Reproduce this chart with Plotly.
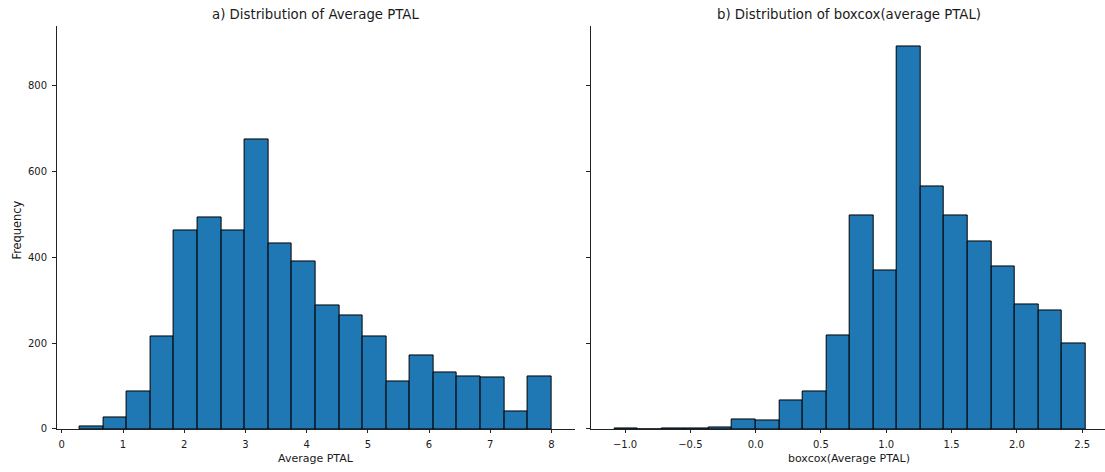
import plotly.graph_objects as go

# ---- data ----
left_edges = [0.29, 0.676, 1.061, 1.447, 1.832, 2.218, 2.603, 2.989, 3.374, 3.760,
              4.145, 4.531, 4.916, 5.302, 5.687, 6.073, 6.458, 6.844, 7.229, 7.615, 8.0]
left_counts = [7, 27, 87, 215, 462, 493, 462, 673, 432, 390,
               287, 264, 215, 110, 170, 131, 123, 120, 40, 123]

right_edges = [-1.082, -0.902, -0.721, -0.541, -0.360, -0.180, 0.0, 0.181, 0.361, 0.541,
               0.722, 0.902, 1.082, 1.263, 1.443, 1.623, 1.804, 1.984, 2.164, 2.345, 2.525]
right_counts = [2, 0, 1, 1, 4, 22, 20, 67, 87, 218,
                498, 370, 890, 565, 498, 436, 378, 290, 277, 198]

left_ticks = [0, 1, 2, 3, 4, 5, 6, 7, 8]
right_ticks = [-1.0, -0.5, 0.0, 0.5, 1.0, 1.5, 2.0, 2.5]
y_ticks = [0, 200, 400, 600, 800]

titles = ["a) Distribution of Average PTAL", "b) Distribution of boxcox(average PTAL)"]
xlabels = ["Average PTAL", "boxcox(Average PTAL)"]
ylabel = "Frequency"

W, H = 1105, 472
FONT = "DejaVu Sans"
BAR = "#1f77b4"
TXT = "#1a1a1a"


def bar_trace(edges, counts, xa, ya):
    centers = [(a + b) / 2 for a, b in zip(edges[:-1], edges[1:])]
    widths = [b - a for a, b in zip(edges[:-1], edges[1:])]
    return go.Bar(x=centers, y=counts, width=widths, xaxis=xa, yaxis=ya,
                  marker=dict(color=BAR, line=dict(color="black", width=1)),
                  showlegend=False, hoverinfo="x+y")


fig = go.Figure()
fig.add_trace(bar_trace(left_edges, left_counts, "x", "y"))
fig.add_trace(bar_trace(right_edges, right_counts, "x2", "y2"))

ydom = [(H - 434.5) / H, (H - 26.8) / H]
x1dom = [56.6 / W, 575.0 / W]
x2dom = [590.7 / W, 1.0]

axis_common = dict(showgrid=False, zeroline=False, showline=True, linecolor="#222",
                   linewidth=1, ticks="outside", ticklen=3.5, tickcolor="#222",
                   tickwidth=0.8, tickfont=dict(family=FONT, size=10, color=TXT))

fig.update_layout(
    width=W, height=H, margin=dict(l=0, r=0, t=0, b=0),
    paper_bgcolor="white", plot_bgcolor="white", bargap=0,
    font=dict(family=FONT, size=10, color=TXT),
    xaxis=dict(domain=x1dom, range=[-0.085, 8.385], tickvals=left_ticks,
               anchor="y", ticklabelstandoff=3, **axis_common),
    yaxis=dict(domain=ydom, range=[0, 937], tickvals=y_ticks, anchor="x",
               ticklabelstandoff=3, **axis_common),
    xaxis2=dict(domain=x2dom, range=[-1.263, 2.675], tickvals=right_ticks,
                tickformat=".1f", anchor="y2", ticklabelstandoff=3, **axis_common),
    yaxis2=dict(domain=ydom, range=[0, 937], tickvals=y_ticks, anchor="x2",
                showticklabels=False, matches="y", **axis_common),
)

centers_px = [315.9, 849.0]
ann = []
for cpx, t, xl in zip(centers_px, titles, xlabels):
    cx = cpx / W
    ann.append(dict(text=t, x=cx, y=(H - 14.5) / H, xref="paper", yref="paper",
                    showarrow=False, xanchor="center", yanchor="middle",
                    font=dict(family=FONT, size=13.3, color=TXT)))
    ann.append(dict(text=xl, x=cx, y=(H - 464) / H, xref="paper", yref="paper",
                    showarrow=False, xanchor="center", yanchor="middle",
                    font=dict(family=FONT, size=11, color=TXT)))
ann.append(dict(text=ylabel, x=17.5 / W, y=(H - 233) / H, xref="paper", yref="paper",
                showarrow=False, textangle=-90, xanchor="center", yanchor="middle",
                font=dict(family=FONT, size=11.4, color=TXT)))
fig.update_layout(annotations=ann)

fig.write_html("out.html",
               config={"displayModeBar": False},
               post_script="document.body.style.margin='0';"
                           "document.body.style.overflow='hidden';")
